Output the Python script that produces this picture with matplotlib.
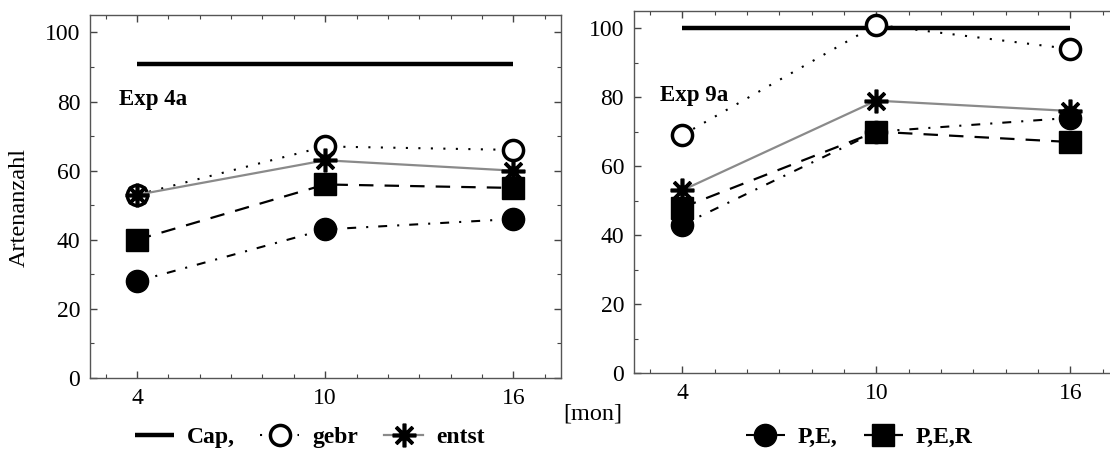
import matplotlib
matplotlib.use("Agg")
import matplotlib.pyplot as plt
from matplotlib.lines import Line2D
from matplotlib.ticker import MultipleLocator

plt.rcParams["font.family"] = ["Liberation Serif", "DejaVu Serif"]

months = [4, 10, 16]

# Exp 4a
cap_4a = 91
gebr_4a = [53, 67, 66]
entst_4a = [53, 63, 60]
pe_4a = [28, 43, 46]
per_4a = [40, 56, 55]

# Exp 9a
cap_9a = 100
gebr_9a = [69, 101, 94]
entst_9a = [53, 79, 76]
pe_9a = [43, 70, 74]
per_9a = [48, 70, 67]

panel_titles = ["Exp 4a", "Exp 9a"]
y_label = "Artenanzahl"
x_unit = "[mon]"

DOT = (0, (1, 5))
DASH = (0, (6.5, 5))
DASHDOT = (0, (4.3, 4.8, 1, 4.8))

style_cap = dict(color="black", lw=3.2, solid_capstyle="butt")
style_gebr = dict(color="black", lw=1.5, ls=DOT, marker="o", ms=14.5,
                  mfc="white", mec="black", mew=2.5)
style_entst = dict(color="#8a8a8a", lw=1.6, ls="-", marker=(8, 2, 0), ms=17,
                   mec="black", mfc="black", mew=2.6)
style_per = dict(color="black", lw=1.6, ls=DASH, marker="s", ms=15.5,
                 mfc="black", mec="black")
style_pe = dict(color="black", lw=1.5, ls=DASHDOT, marker="o", ms=16,
                mfc="black", mec="black")

fig = plt.figure(figsize=(11.1, 4.59), dpi=100)
ax1 = fig.add_axes([0.081, 0.1765, 0.424, 0.7905])
ax2 = fig.add_axes([0.571, 0.1874, 0.437, 0.7886])


def draw_panel(ax, cap, gebr, entst, pe, per, title, tx):
    ax.plot([months[0], months[-1]], [cap, cap], **style_cap, zorder=2)
    ax.plot(months, gebr, **style_gebr, zorder=3)
    ax.plot(months, entst, **style_entst, zorder=4)
    ax.plot(months, per, **style_per, zorder=5)
    ax.plot(months, pe, **style_pe, zorder=6)
    ax.set_xlim(2.5, 17.5)
    ax.set_ylim(0, 105)
    ax.set_xticks(months)
    ax.set_yticks([0, 20, 40, 60, 80, 100])
    ax.xaxis.set_minor_locator(MultipleLocator(1))
    ax.yaxis.set_minor_locator(MultipleLocator(10))
    ax.tick_params(which="both", direction="in", top=True, right=True,
                   labelsize=17, color="#444444")
    ax.tick_params(which="major", length=5, width=1)
    ax.tick_params(which="minor", length=3, width=0.8)
    ax.tick_params(axis="x", pad=7)
    ax.tick_params(axis="y", pad=7)
    for sp in ax.spines.values():
        sp.set_color("#555555")
        sp.set_linewidth(1.0)
    ax.text(tx, 80.5, title, fontsize=16.5, fontweight="bold",
            ha="left", va="center")


draw_panel(ax1, cap_4a, gebr_4a, entst_4a, pe_4a, per_4a, panel_titles[0], 3.42)
draw_panel(ax2, cap_9a, gebr_9a, entst_9a, pe_9a, per_9a, panel_titles[1], 3.32)

ax1.set_ylabel(y_label, fontsize=17.5)
ax1.yaxis.set_label_coords(-0.128, 0.47)
fig.text(0.534, 0.099, x_unit, fontsize=17.5, ha="center", va="center")

legend_font = dict(family=["Liberation Serif", "DejaVu Serif"], weight="bold", size=17)

h_cap = Line2D([], [], **style_cap)
h_gebr = Line2D([], [], **style_gebr)
h_entst = Line2D([], [], **style_entst)
h_pe = Line2D([], [], **style_pe)
h_per = Line2D([], [], **style_per)

fig.legend([h_cap, h_gebr, h_entst], ["Cap,", "gebr", "entst"],
           loc="center", bbox_to_anchor=(0.279, 0.047), ncol=3, frameon=False,
           prop=legend_font, handlelength=1.65, handletextpad=0.55,
           columnspacing=1.1, borderpad=0)
fig.legend([h_pe, h_per], ["P,E,", "P,E,R"],
           loc="center", bbox_to_anchor=(0.774, 0.047), ncol=2, frameon=False,
           prop=legend_font, handlelength=1.65, handletextpad=0.55,
           columnspacing=1.1, borderpad=0)

fig.savefig("out.png", dpi=100)
